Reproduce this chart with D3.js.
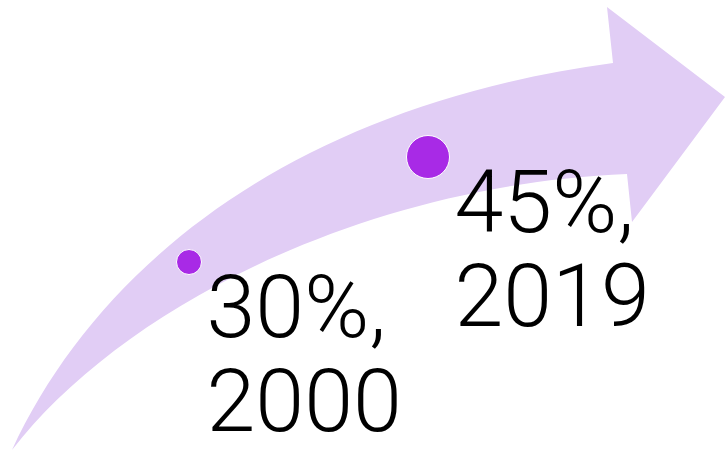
<!DOCTYPE html>
<html>
<head>
<meta charset="utf-8">
<script src="https://cdn.jsdelivr.net/npm/d3@7"></script>
<style>
  body { margin: 0; background: #fff; }
  svg { display: block; }
</style>
</head>
<body>
<div id="chart-area"></div>
<script>
const WIDTH = 726
const HEIGHT = 451

// data
var years = [2000, 2019]
var shares = [30, 45]

var svg = d3.select('#chart-area').append("svg")
    .attr("width", WIDTH)
    .attr("height", HEIGHT)

// year along the arrow, share up the arrow
var xScale = d3.scaleLinear()
    .domain([2000, 2019])
    .range([189, 428])
var yScale = d3.scaleLinear()
    .domain([30, 45])
    .range([262, 157])
var rScale = d3.scaleLinear()
    .domain([30, 45])
    .range([12.5, 21.5])

// curved arrow behind the points
var p = d3.path()
p.moveTo(12, 450)
p.bezierCurveTo(100, 260, 300, 105, 613, 63)
p.lineTo(607, 7)
p.lineTo(725, 97)
p.lineTo(632, 222)
p.lineTo(627, 174)
p.bezierCurveTo(360, 185, 120, 310, 12, 450)
p.closePath()

svg.append("path")
    .attr("d", p.toString())
    .attr("fill", "#e1cdf5")

var points = svg.selectAll("g.point")
    .data(years.map(function(y, i){ return {year: y, share: shares[i]} }))
    .enter().append("g")
    .attr("class", "point")
    .attr("transform", function(d){
        return "translate(" + xScale(d.year) + "," + yScale(d.share) + ")"
    })

points.append("circle")
    .attr("r", function(d){ return rScale(d.share) })
    .attr("fill", "#a82ae6")
    .attr("stroke", "#fff")
    .attr("stroke-width", 1)

var label = points.append("text")
    .attr("y", 75)
    .attr("font-family", "Roboto, sans-serif")
    .attr("font-weight", 300)
    .attr("font-size", "88px")
    .attr("fill", "#000")

label.append("tspan")
    .attr("x", function(d){ return rScale(d.share) + 5 })
    .text(function(d){ return d.share + "%," })
label.append("tspan")
    .attr("x", function(d){ return rScale(d.share) + 5 })
    .attr("dy", 94)
    .text(function(d){ return d.year })
</script>
</body>
</html>
